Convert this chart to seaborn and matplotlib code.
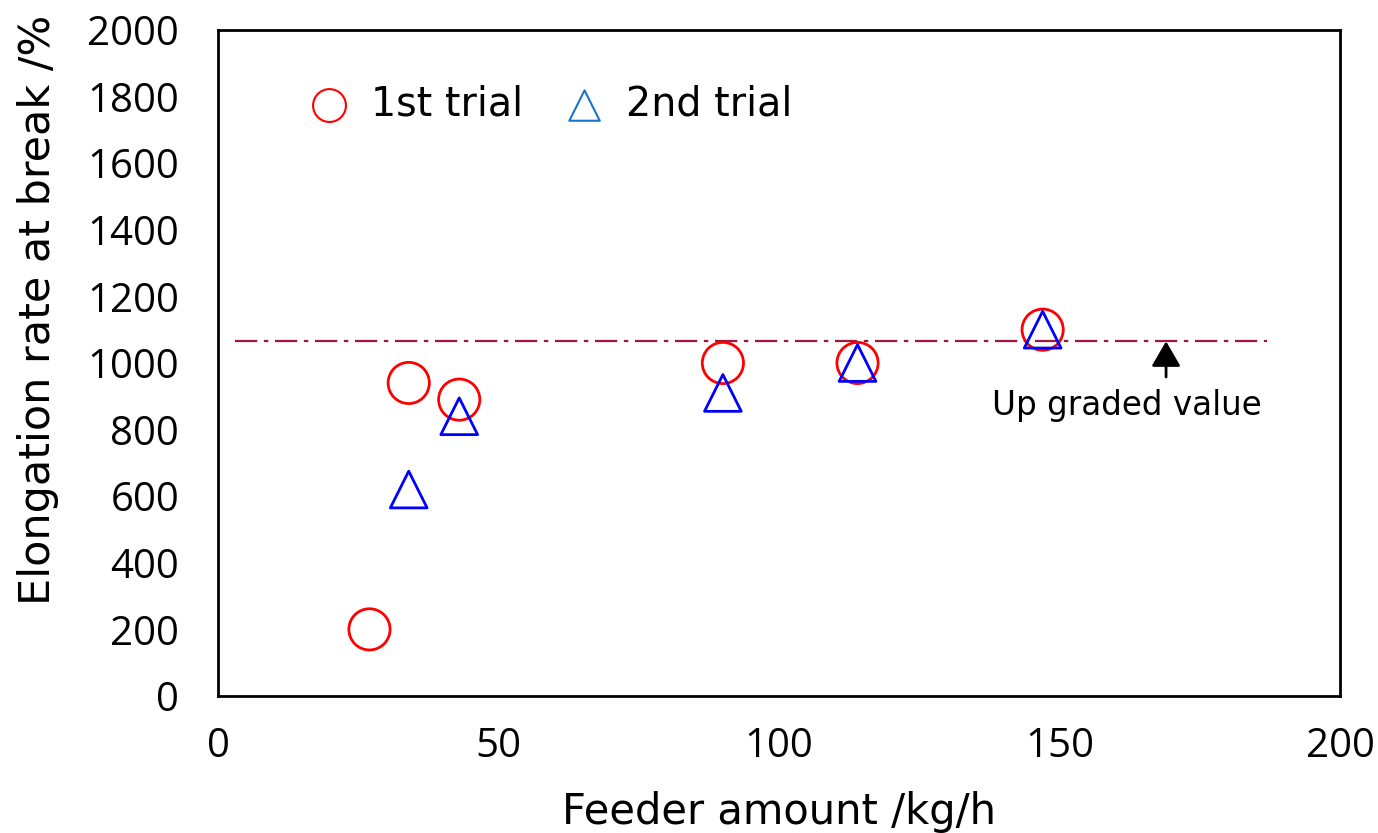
import matplotlib
matplotlib.use("Agg")
import matplotlib.pyplot as plt
import seaborn as sns
import pandas as pd

# Elongation rate at break vs. feeder amount
trial1_feed = [27, 34, 43, 90, 114, 147]
trial1_elong = [200, 940, 890, 1000, 1000, 1100]
trial2_feed = [34, 43, 90, 114, 147]
trial2_elong = [620, 840, 910, 1000, 1100]
upgraded_value = 1065
upgraded_span = [3, 187]
arrow_x = 169
arrow_tail = 958
note_text = "Up graded value"
x_ticks = [0, 50, 100, 150, 200]
y_ticks = list(range(0, 2001, 200))

sns.set_theme(style="white")
plt.rcParams["font.family"] = ["Open Sans", "DejaVu Sans"]
plt.rcParams["text.color"] = "black"
plt.rcParams["axes.labelcolor"] = "black"
wide = ["DejaVu Sans"]

df1 = pd.DataFrame({"feed": trial1_feed, "elong": trial1_elong})
df2 = pd.DataFrame({"feed": trial2_feed, "elong": trial2_elong})

fig = plt.figure(figsize=(13.78, 8.33), dpi=100)
ax = fig.add_axes([0.1582, 0.1645, 0.8142, 0.7995])

ax.plot(upgraded_span, [upgraded_value, upgraded_value], color="#A3163F",
        lw=1.6, ls=(0, (10, 3, 2, 3)), zorder=1)

sns.scatterplot(data=df1, x="feed", y="elong", ax=ax, marker="o", s=880,
                facecolor="none", edgecolor="#FF0000", linewidth=2.0,
                zorder=3, legend=False)
sns.scatterplot(data=df2, x="feed", y="elong", ax=ax, marker="^", s=700,
                facecolor="none", edgecolor="#0000FF", linewidth=2.0,
                zorder=4, legend=False)

ax.annotate("", xy=(arrow_x, upgraded_value), xytext=(arrow_x, arrow_tail),
            arrowprops=dict(arrowstyle="-|>,head_length=0.55,head_width=0.32",
                            color="black", lw=2, mutation_scale=28,
                            shrinkA=0, shrinkB=0))
ax.text(162, 873, note_text, ha="center", va="center", fontsize=23.5,
        family=wide)

# Legend entries drawn as plain markers and text
h1 = ax.scatter([], [], marker="o", s=560, facecolor="none",
                edgecolor="#FF0000", linewidth=1.5)
h2 = ax.scatter([], [], marker="^", s=480, facecolor="none",
                edgecolor="#1874CD", linewidth=1.5)
leg = ax.legend([h1, h2], ["1st trial", "2nd trial"], loc="upper left",
                bbox_to_anchor=(0.05, 0.971), ncol=2, frameon=False,
                prop={"family": wide, "size": 28.5}, handletextpad=0.55,
                columnspacing=1.05, handlelength=1.0)

ax.set_xlim(0, 200)
ax.set_ylim(0, 2000)
ax.set_xticks(x_ticks)
ax.set_yticks(y_ticks)
ax.tick_params(direction="in", length=13, width=1.3, labelsize=29,
               pad=22, colors="black")
ax.tick_params(axis="y", pad=28)
for s in ax.spines.values():
    s.set_linewidth(2)
    s.set_color("black")
ax.set_xlabel("Feeder amount /kg/h", fontsize=30, family=wide, labelpad=17)
ax.set_ylabel("Elongation rate at break /%", fontsize=31, family=wide,
              va="center")
ax.yaxis.set_label_coords(-0.160, 0.58)

fig.savefig("out.png", dpi=100)
